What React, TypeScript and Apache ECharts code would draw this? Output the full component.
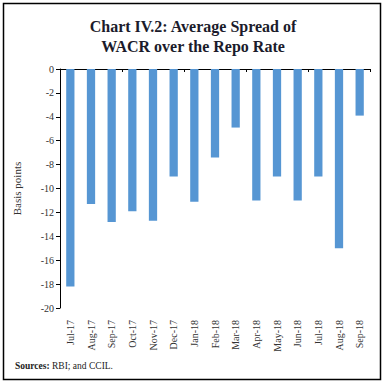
import React, { useEffect, useRef } from "react";
import * as echarts from "echarts";

const categories = ["Jul-17", "Aug-17", "Sep-17", "Oct-17", "Nov-17", "Dec-17", "Jan-18", "Feb-18", "Mar-18", "Apr-18", "May-18", "Jun-18", "Jul-18", "Aug-18", "Sep-18"];
const spread = [-18.2, -11.3, -12.8, -11.9, -12.7, -9.0, -11.1, -7.4, -4.9, -11.0, -9.0, -11.0, -9.0, -15.0, -3.9];
const titleText = "Chart IV.2: Average Spread of\nWACR over the Repo Rate";
const yAxisName = "Basis points";

const SERIF = "'Liberation Serif', 'DejaVu Serif', serif";

export default function App() {
  const ref = useRef<HTMLDivElement>(null);
  useEffect(() => {
    const chart = echarts.init(ref.current!, undefined, { renderer: "svg" });
    chart.setOption({
      animation: false,
      backgroundColor: "#fff",
      title: {
        text: titleText,
        left: "center",
        top: 11,
        textStyle: { fontFamily: SERIF, fontSize: 16, fontWeight: "bold", color: "#1b1b2b", lineHeight: 20 },
      },
      grid: { left: 60, right: 16, top: 69, bottom: 75 },
      xAxis: [
        {
          type: "category",
          data: categories,
          position: "bottom",
          axisLine: { show: false },
          axisTick: { show: false },
          axisLabel: { rotate: 90, margin: 12, fontFamily: SERIF, fontSize: 10, color: "#333" },
        },
        {
          type: "category",
          data: categories,
          position: "top",
          axisLine: { show: true, lineStyle: { color: "#000", width: 1 } },
          axisTick: { show: true, inside: true, length: 3, lineStyle: { color: "#000" } },
          axisLabel: { show: false },
        },
      ],
      yAxis: {
        type: "value",
        min: -20,
        max: 0,
        interval: 2,
        name: yAxisName,
        nameLocation: "middle",
        nameGap: 38,
        nameTextStyle: { fontFamily: SERIF, fontSize: 11, color: "#333" },
        axisLine: { show: true, lineStyle: { color: "#000" } },
        axisTick: { show: true, length: 4, lineStyle: { color: "#000" } },
        axisLabel: { margin: 6, fontFamily: SERIF, fontSize: 10, color: "#333" },
        splitLine: { show: false },
      },
      series: [
        {
          type: "bar",
          data: spread,
          barWidth: "40%",
          itemStyle: { color: "#5696d3" },
        },
      ],
      graphic: [
        {
          type: "rect",
          shape: { x: 3.5, y: 3.5, width: 377, height: 376 },
          style: { fill: "none", stroke: "#000", lineWidth: 1.5 },
          silent: true,
        },
        {
          type: "text",
          x: 15,
          y: 361,
          style: {
            text: "{b|Sources:} RBI; and CCIL.",
            rich: {
              b: { fontFamily: SERIF, fontSize: 9.5, fontWeight: "bold", fill: "#222" },
            },
            fontFamily: SERIF,
            fontSize: 9.5,
            fill: "#222",
          },
        },
      ],
    });
    return () => chart.dispose();
  }, []);
  return <div ref={ref} style={{ position: "fixed", left: 0, top: 0, width: 386, height: 383 }} />;
}
